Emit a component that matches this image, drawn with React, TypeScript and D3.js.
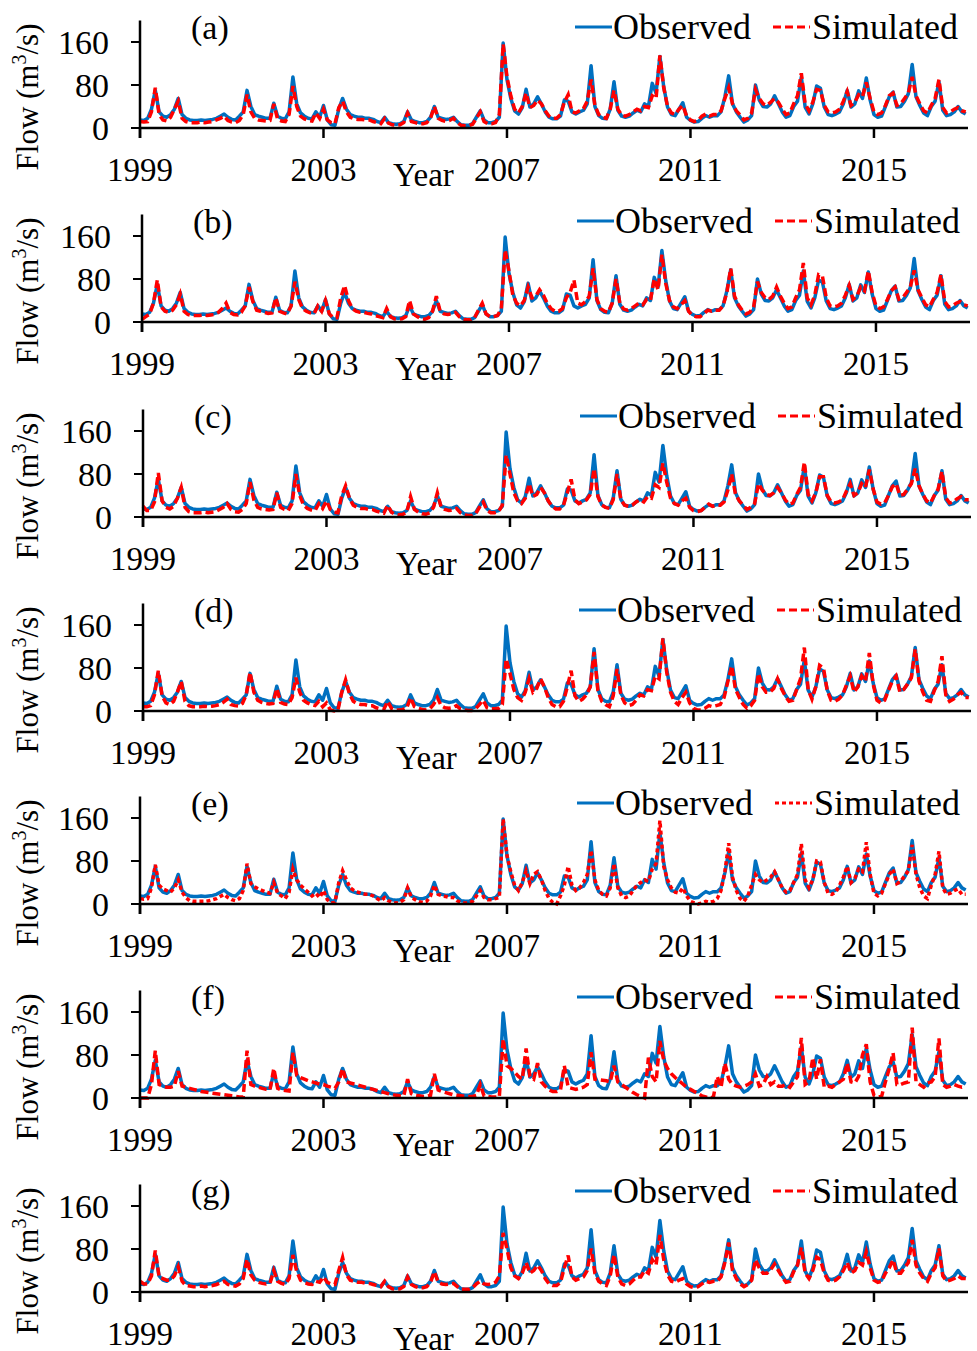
import React from 'react';
import * as d3 from 'd3';

// monthly flow series, Jan 1999 .. Jan 2017
const START_YEAR = 1999;
const xTicks = [1999, 2003, 2007, 2011, 2015];
const yTicks = [0, 80, 160];
const panelLabels = ['(a)', '(b)', '(c)', '(d)', '(e)', '(f)', '(g)'];

const observed = [
  15, 14, 18, 35, 70, 30, 22, 20, 25, 35, 55, 25,
  18, 15, 14, 14, 15, 14, 15, 16, 18, 22, 26, 20,
  16, 15, 22, 30, 70, 40, 25, 22, 20, 18, 18, 46,
  22, 18, 17, 30, 95, 45, 28, 22, 18, 17, 30, 20,
  42, 15, 6, 5, 35, 55, 35, 25, 22, 20, 20, 18,
  18, 16, 12, 10, 20, 10, 8, 7, 8, 12, 30, 15,
  12, 10, 10, 12, 20, 40, 20, 18, 16, 17, 20, 12,
  6, 5, 5, 8, 20, 32, 15, 10, 10, 12, 20, 158,
  90, 55, 32, 26, 38, 72, 39, 45, 58, 45, 30, 20,
  17, 17, 22, 52, 50, 30, 26, 30, 33, 45, 116, 40,
  23, 18, 17, 35, 86, 33, 22, 20, 22, 28, 33, 30,
  45, 40, 83, 65, 133, 77, 39, 25, 23, 35, 47, 20,
  14, 11, 12, 18, 23, 20, 23, 23, 30, 58, 97, 45,
  30, 20, 11, 15, 23, 80, 52, 40, 39, 45, 60, 45,
  30, 20, 23, 40, 50, 95, 39, 26, 45, 78, 74, 39,
  25, 23, 26, 30, 45, 70, 39, 45, 69, 55, 93, 52,
  25, 20, 22, 40, 58, 67, 39, 40, 50, 64, 118, 58,
  42, 28, 23, 40, 50, 86, 33, 23, 25, 30, 40, 30,
  26,
];

const simA = [
  12, 11, 12, 30, 75, 25, 15, 13, 20, 35, 50, 18,
  12, 10, 10, 10, 11, 10, 11, 12, 15, 18, 22, 14,
  11, 10, 14, 25, 62, 30, 18, 15, 14, 13, 14, 45,
  16, 13, 12, 25, 78, 40, 22, 17, 14, 13, 28, 18,
  35, 15, 10, 8, 38, 50, 30, 20, 17, 16, 16, 15,
  15, 12, 10, 8, 18, 9, 6, 5, 6, 10, 28, 12,
  10, 8, 8, 10, 18, 40, 18, 14, 12, 14, 18, 10,
  5, 4, 4, 7, 18, 30, 12, 8, 8, 10, 25, 156,
  95, 60, 35, 28, 40, 65, 38, 42, 52, 45, 32, 22,
  18, 18, 25, 48, 62, 30, 28, 32, 36, 50, 90, 42,
  25, 20, 18, 35, 70, 35, 24, 22, 25, 30, 35, 32,
  40, 38, 60, 55, 135, 75, 40, 28, 25, 35, 42, 22,
  15, 12, 14, 22, 26, 22, 25, 25, 32, 55, 75, 45,
  32, 24, 15, 18, 28, 72, 55, 45, 42, 48, 55, 48,
  35, 25, 28, 45, 60, 102, 45, 32, 48, 72, 70, 42,
  30, 28, 30, 35, 50, 68, 42, 48, 62, 58, 85, 55,
  30, 25, 28, 42, 60, 65, 42, 45, 55, 65, 95, 60,
  45, 32, 28, 42, 55, 90, 38, 28, 30, 35, 38, 32,
  30,
];

const simB = [
  5, 10, 15, 35, 78, 28, 20, 18, 22, 32, 52, 20,
  14, 12, 12, 12, 13, 12, 13, 14, 18, 25, 35, 18,
  14, 13, 18, 30, 65, 38, 22, 20, 18, 16, 17, 45,
  20, 17, 15, 30, 75, 42, 25, 20, 17, 15, 30, 20,
  40, 15, 8, 8, 45, 68, 40, 25, 20, 18, 18, 16,
  15, 12, 10, 8, 25, 10, 6, 5, 6, 10, 40, 15,
  10, 6, 5, 8, 20, 48, 20, 15, 14, 15, 18, 10,
  5, 4, 4, 8, 22, 35, 15, 10, 10, 12, 25, 134,
  95, 50, 35, 30, 40, 65, 45, 48, 60, 50, 35, 25,
  20, 20, 25, 45, 55, 78, 35, 32, 38, 48, 100, 42,
  25, 20, 18, 35, 80, 35, 24, 22, 25, 30, 35, 32,
  42, 40, 80, 60, 125, 72, 40, 28, 25, 32, 40, 20,
  12, 10, 10, 15, 22, 20, 22, 22, 30, 55, 100, 48,
  32, 22, 15, 18, 28, 75, 55, 45, 42, 48, 65, 48,
  35, 25, 28, 45, 60, 110, 45, 32, 50, 88, 85, 45,
  30, 28, 30, 35, 50, 68, 42, 48, 65, 58, 95, 55,
  30, 25, 28, 42, 58, 65, 42, 45, 55, 65, 96, 60,
  45, 32, 28, 42, 55, 88, 38, 28, 30, 35, 38, 32,
  30,
];

const simC = [
  20, 12, 12, 28, 82, 30, 18, 15, 20, 35, 55, 18,
  10, 8, 8, 8, 9, 8, 9, 10, 14, 18, 25, 14,
  10, 9, 14, 25, 65, 32, 18, 15, 14, 13, 14, 45,
  18, 14, 12, 25, 80, 40, 22, 16, 13, 12, 25, 16,
  30, 14, 9, 8, 40, 58, 35, 22, 18, 16, 16, 14,
  14, 11, 9, 7, 22, 9, 5, 4, 5, 9, 38, 14,
  9, 6, 5, 8, 18, 45, 18, 14, 12, 13, 16, 8,
  4, 3, 3, 6, 18, 28, 12, 8, 8, 10, 22, 115,
  80, 45, 30, 25, 35, 62, 38, 42, 55, 45, 30, 20,
  15, 15, 22, 45, 70, 32, 25, 28, 32, 42, 90, 38,
  22, 18, 16, 32, 80, 32, 22, 20, 22, 28, 32, 28,
  38, 35, 60, 55, 100, 65, 35, 25, 22, 30, 35, 18,
  12, 10, 12, 18, 24, 20, 22, 22, 28, 50, 80, 42,
  30, 22, 14, 18, 25, 62, 50, 42, 40, 45, 55, 45,
  32, 24, 26, 42, 55, 102, 42, 30, 45, 75, 75, 40,
  28, 26, 28, 32, 48, 62, 40, 45, 62, 55, 88, 52,
  28, 24, 26, 40, 56, 62, 40, 42, 52, 62, 90, 58,
  42, 30, 26, 40, 52, 85, 36, 26, 28, 34, 38, 32,
  32,
];

const simD = [
  8, 8, 10, 30, 75, 28, 15, 12, 18, 35, 55, 18,
  10, 8, 8, 8, 9, 8, 9, 10, 12, 16, 22, 12,
  10, 9, 14, 30, 72, 35, 20, 16, 14, 13, 14, 42,
  16, 13, 12, 25, 62, 35, 20, 15, 12, 10, 18, 8,
  15, 2, 0, 2, 35, 58, 32, 18, 14, 12, 12, 10,
  10, 6, 4, 3, 18, 5, 2, 2, 3, 6, 25, 8,
  5, 3, 2, 4, 12, 25, 10, 6, 5, 6, 10, 4,
  2, 1, 1, 4, 12, 20, 6, 4, 4, 5, 12, 97,
  70, 40, 25, 20, 35, 60, 35, 42, 60, 45, 25, 12,
  8, 8, 18, 45, 75, 28, 18, 22, 30, 45, 110, 38,
  18, 12, 8, 28, 78, 30, 15, 10, 12, 20, 30, 28,
  40, 38, 65, 60, 135, 72, 35, 18, 12, 25, 35, 15,
  5, 2, 2, 5, 10, 8, 10, 12, 25, 55, 84, 40,
  25, 12, 5, 10, 20, 70, 45, 35, 35, 42, 60, 42,
  28, 18, 20, 40, 60, 118, 40, 22, 45, 85, 80, 38,
  20, 18, 22, 30, 48, 65, 35, 45, 65, 55, 108, 50,
  20, 15, 20, 38, 55, 65, 35, 40, 50, 62, 115, 55,
  35, 20, 18, 38, 55, 102, 30, 18, 22, 30, 35, 25,
  25,
];

const simE = [
  10, 9, 10, 30, 73, 35, 28, 25, 22, 30, 45, 22,
  12, 6, 5, 5, 5, 5, 6, 8, 10, 14, 18, 12,
  8, 6, 10, 25, 75, 38, 32, 28, 25, 22, 20, 40,
  20, 15, 10, 22, 65, 45, 35, 28, 22, 15, 20, 12,
  25, 8, 2, 3, 40, 62, 45, 30, 25, 22, 20, 18,
  18, 15, 10, 6, 12, 6, 3, 2, 3, 8, 30, 12,
  8, 4, 3, 5, 15, 35, 18, 15, 14, 12, 12, 6,
  3, 2, 2, 5, 15, 25, 12, 8, 8, 10, 12, 158,
  90, 60, 35, 25, 40, 62, 38, 55, 60, 45, 25, 10,
  3, 0, 15, 35, 70, 35, 25, 30, 40, 55, 100, 45,
  25, 18, 15, 30, 75, 30, 15, 12, 15, 25, 35, 40,
  45, 42, 65, 75, 155, 70, 45, 30, 22, 20, 30, 15,
  5, 2, 0, 2, 5, 3, 5, 10, 25, 60, 113, 50,
  25, 10, 5, 15, 35, 55, 45, 40, 45, 50, 60, 45,
  30, 22, 25, 40, 55, 112, 45, 30, 45, 80, 78, 40,
  20, 18, 22, 35, 50, 70, 40, 48, 65, 60, 115, 55,
  20, 15, 20, 38, 55, 65, 38, 42, 52, 62, 110, 55,
  30, 15, 10, 35, 55, 98, 30, 18, 20, 25, 28, 18,
  18,
];

const simF = [
  0, 0, 0, 25, 88, 25, 22, 20, 20, 22, 50, 22,
  20, 18, 16, 14, 12, 11, 10, 9, 8, 7, 6, 5,
  4, 3, 2, 2, 88, 25, 22, 20, 18, 16, 15, 55,
  18, 15, 14, 13, 85, 42, 38, 35, 32, 30, 28, 26,
  25, 22, 20, 18, 30, 55, 30, 28, 26, 24, 22, 20,
  18, 16, 14, 12, 10, 8, 6, 5, 4, 4, 35, 8,
  5, 4, 3, 3, 5, 45, 15, 12, 10, 8, 6, 5,
  4, 3, 3, 3, 5, 25, 4, 3, 2, 2, 2, 110,
  60, 55, 48, 40, 35, 92, 40, 35, 65, 30, 22, 15,
  12, 12, 15, 60, 20, 18, 16, 18, 20, 25, 85, 35,
  34, 33, 32, 30, 60, 30, 25, 20, 15, 10, 6, 3,
  0, 75, 40, 30, 106, 70, 55, 45, 38, 32, 26, 20,
  16, 12, 8, 4, 2, 0, 2, 40, 20, 65, 35, 25,
  22, 20, 22, 25, 30, 45, 22, 25, 40, 25, 30, 22,
  22, 25, 20, 30, 40, 112, 25, 30, 75, 35, 72, 20,
  22, 20, 25, 30, 35, 65, 30, 28, 40, 80, 100, 30,
  5, 2, 3, 30, 55, 84, 25, 25, 28, 30, 131, 30,
  25, 20, 28, 30, 40, 111, 25, 20, 22, 25, 22, 20,
  22,
];

const simG = [
  20, 15, 15, 30, 77, 28, 25, 22, 22, 30, 47, 20,
  12, 11, 10, 10, 11, 10, 11, 12, 14, 17, 20, 14,
  12, 11, 15, 25, 61, 32, 22, 18, 16, 15, 16, 40,
  20, 16, 14, 25, 69, 38, 22, 18, 15, 14, 20, 18,
  28, 18, 15, 14, 40, 64, 32, 22, 20, 18, 18, 16,
  16, 14, 12, 10, 20, 10, 6, 5, 6, 10, 28, 14,
  10, 8, 8, 10, 18, 38, 18, 15, 14, 15, 16, 10,
  5, 5, 5, 8, 15, 20, 15, 14, 15, 18, 30, 110,
  80, 45, 30, 25, 35, 55, 35, 40, 50, 40, 25, 15,
  12, 12, 18, 45, 68, 28, 22, 25, 28, 40, 81, 35,
  20, 15, 12, 30, 70, 28, 15, 12, 15, 22, 28, 28,
  40, 35, 60, 50, 106, 60, 32, 20, 18, 22, 25, 15,
  10, 8, 10, 15, 20, 18, 20, 20, 28, 55, 92, 40,
  25, 15, 10, 14, 22, 60, 45, 35, 35, 42, 52, 40,
  28, 18, 20, 38, 50, 83, 35, 25, 40, 65, 60, 35,
  22, 20, 22, 28, 40, 55, 35, 40, 55, 50, 75, 45,
  22, 18, 20, 35, 45, 60, 35, 35, 45, 55, 97, 50,
  35, 25, 20, 35, 45, 81, 30, 20, 22, 25, 30, 25,
  25,
];

const simulated = [simA, simB, simC, simD, simE, simF, simG];

// layout
const W = 977;
const H = 1351;
const panelBase = [128, 322, 517, 711, 904, 1098, 1292];
const xShift = [0, 2, 3, 3, 0, 0, 0];
const legendShift = [0, 2, 5, 4, 2, 2, 0];
const redDash = ['8,4', '8,4', '8,4', '8,4', '4,3', '8,4', '8,4'];
const BLUE = '#0070C0';
const RED = '#FF0000';
const FONT = "'Liberation Serif', 'Times New Roman', serif";

function Panel({ idx }: { idx: number }) {
  const y0 = panelBase[idx];
  const dx = xShift[idx];
  const lx = legendShift[idx];
  const x = d3.scaleLinear().domain([1999, 2017.05]).range([140 + dx, 968 + dx]);
  const y = d3.scaleLinear().domain([0, 200]).range([y0, y0 - 107.5]);
  const line = d3
    .line<number>()
    .x((_, i) => x(START_YEAR + i / 12))
    .y((d) => y(d));

  const xl = x(1999);
  return (
    <g>
      {/* y label */}
      <text
        transform={`translate(38,${y0 - 31}) rotate(-90)`}
        textAnchor="middle"
        fontSize={31}
      >
        Flow (m<tspan fontSize={20} dy={-12}>3</tspan>
        <tspan dy={12}>/s)</tspan>
      </text>

      {/* series */}
      <path d={line(observed) || ''} fill="none" stroke={BLUE} strokeWidth={3.5} strokeLinejoin="round" />
      <path
        d={line(simulated[idx]) || ''}
        fill="none"
        stroke={RED}
        strokeWidth={3.5}
        strokeDasharray={redDash[idx]}
      />

      {/* axes */}
      <line x1={xl} x2={x(2017.05)} y1={y0} y2={y0} stroke="#000" strokeWidth={2.5} />
      <line x1={xl} x2={xl} y1={y0 + 10} y2={y(200)} stroke="#000" strokeWidth={2.5} />
      {yTicks.map((t) => (
        <g key={t}>
          <line x1={xl - 9} x2={xl} y1={y(t)} y2={y(t)} stroke="#000" strokeWidth={2} />
          <text x={xl - 31} y={y(t)} dy="0.35em" textAnchor="end" fontSize={34}>
            {t}
          </text>
        </g>
      ))}
      {xTicks.map((t) => (
        <g key={t}>
          <line x1={x(t)} x2={x(t)} y1={y0} y2={y0 + 10} stroke="#000" strokeWidth={2.5} />
          <text x={x(t)} y={y0 + 53} textAnchor="middle" fontSize={33}>
            {t}
          </text>
        </g>
      ))}
      <text x={393 + dx} y={y0 + 58} fontSize={33}>
        Year
      </text>

      {/* panel letter */}
      <text x={191 + dx} y={y0 - 89} fontSize={34}>
        {panelLabels[idx]}
      </text>

      {/* legend */}
      <line x1={575 + lx} x2={612 + lx} y1={y0 - 101} y2={y0 - 101} stroke={BLUE} strokeWidth={3} />
      <text x={613 + lx} y={y0 - 89} fontSize={36}>
        Observed
      </text>
      <line
        x1={773 + lx}
        x2={810 + lx}
        y1={y0 - 101}
        y2={y0 - 101}
        stroke={RED}
        strokeWidth={3}
        strokeDasharray={redDash[idx]}
      />
      <text x={812 + lx} y={y0 - 89} fontSize={36}>
        Simulated
      </text>
    </g>
  );
}

export default function App() {
  return (
    <svg
      width={W}
      height={H}
      viewBox={`0 0 ${W} ${H}`}
      style={{ position: 'absolute', left: 0, top: 0, background: '#fff' }}
      fontFamily={FONT}
      fill="#000"
    >
      {panelBase.map((_, i) => (
        <Panel key={i} idx={i} />
      ))}
    </svg>
  );
}
